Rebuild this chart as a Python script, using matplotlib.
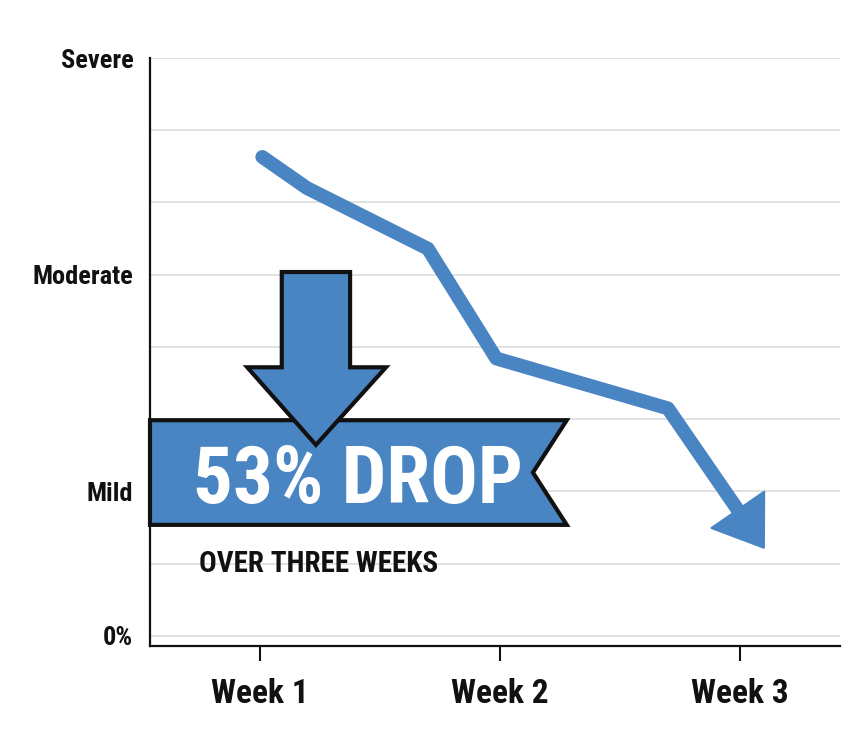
import numpy as np
import matplotlib
matplotlib.use("Agg")
import matplotlib.pyplot as plt
import matplotlib.font_manager as fm
from matplotlib.patches import Polygon

# data
weeks = [1, 2, 3]
week_labels = ["Week 1", "Week 2", "Week 3"]
level_ticks = [0, 2, 5, 8]
level_labels = ["0%", "Mild", "Moderate", "Severe"]
trend_x = [1.01, 1.196, 1.70, 1.985, 2.70, 3.10]
trend_y = [6.63, 6.20, 5.36, 3.84, 3.15, 1.22]
headline = "53% DROP"
subline = "OVER THREE WEEKS"

BLUE = "#4a85c3"


def pick_font():
    prefs = ["robotocondensed-bold", "oswald", "liberationsansnarrow-bold",
             "dejavusanscondensed-bold", "notosans-condensedbold", "notosanscondensed-bold"]
    files = [f.fname for f in fm.fontManager.ttflist]
    for p in prefs:
        for fn in files:
            if p in fn.lower().replace("_", "").replace(" ", ""):
                return fm.FontProperties(fname=fn)
    for f in fm.fontManager.ttflist:
        low = f.fname.lower()
        if ("condensed" in low or "narrow" in low) and "bold" in low and "italic" not in low:
            return fm.FontProperties(fname=f.fname)
    return fm.FontProperties(family="DejaVu Sans", weight="bold", stretch="condensed")


fp = pick_font()

fig = plt.figure(figsize=(8.68, 7.42), dpi=100)
ax = fig.add_axes([0.1728, 0.1294, 0.7949, 0.7924])
ax.set_xlim(0.542, 3.417)
ax.set_ylim(-0.14, 8.0)

for lv in range(9):
    ax.axhline(lv, color="#dedede", lw=1.3, zorder=0)

for s in ["top", "right"]:
    ax.spines[s].set_visible(False)
for s in ["left", "bottom"]:
    ax.spines[s].set_linewidth(1.6)
    ax.spines[s].set_color("#111111")

ax.set_xticks(weeks)
ax.set_xticklabels(week_labels, fontproperties=fp, fontsize=24)
ax.tick_params(axis="x", length=11, width=1.5, pad=12, colors="#111111")
ax.set_yticks(level_ticks)
ax.set_yticklabels(level_labels, fontproperties=fp, fontsize=19)
ax.tick_params(axis="y", length=0, pad=12, colors="#111111")

# trend line with a filled arrowhead at the end
tx = np.array(trend_x)
ty = np.array(trend_y)
pts = ax.transData.transform(np.column_stack([tx, ty]))
tip = pts[-1]
d = tip - pts[-2]
d = d / np.hypot(*d)
nrm = np.array([-d[1], d[0]])
head_len, head_half = 46, 32
base = tip - d * head_len
line_pts = np.vstack([pts[:-1], base + d * 4])
line_data = ax.transData.inverted().transform(line_pts)
ax.plot(line_data[:, 0], line_data[:, 1], color=BLUE, lw=10,
        solid_capstyle="round", solid_joinstyle="round", zorder=3)
head = np.array([tip, base + nrm * head_half, base - nrm * head_half])
ax.add_patch(Polygon(ax.transData.inverted().transform(head), closed=True,
                     facecolor=BLUE, edgecolor=BLUE, lw=1.5, joinstyle="round", zorder=3))

# ribbon banner
ban_r, ban_notch, ban_top, ban_bot = 0.604, 0.555, 0.384, 0.206
ribbon = [(0, ban_top), (ban_r, ban_top), (ban_notch, (ban_top + ban_bot) / 2),
          (ban_r, ban_bot), (0, ban_bot)]
ax.add_patch(Polygon(ribbon, closed=True, transform=ax.transAxes, clip_on=False,
                     facecolor=BLUE, edgecolor="#111111", lw=3, joinstyle="miter", zorder=4))

# big down arrow
sx0, sx1, s_top, w_y, wx0, wx1, tip_x, tip_y = 0.191, 0.290, 0.636, 0.474, 0.141, 0.342, 0.2405, 0.342
arrow = [(sx0, s_top), (sx1, s_top), (sx1, w_y), (wx1, w_y), (tip_x, tip_y),
         (wx0, w_y), (sx0, w_y)]
ax.add_patch(Polygon(arrow, closed=True, transform=ax.transAxes, clip_on=False,
                     facecolor=BLUE, edgecolor="#111111", lw=3, joinstyle="miter", zorder=5))

ax.text(0.062, 0.243, headline, transform=ax.transAxes, fontproperties=fp,
        fontsize=57, color="white", ha="left", va="baseline", zorder=6)
ax.text(0.071, 0.126, subline, transform=ax.transAxes, fontproperties=fp,
        fontsize=21, color="#111111", ha="left", va="baseline", zorder=6)

fig.savefig("out.png", dpi=100, facecolor="white")
